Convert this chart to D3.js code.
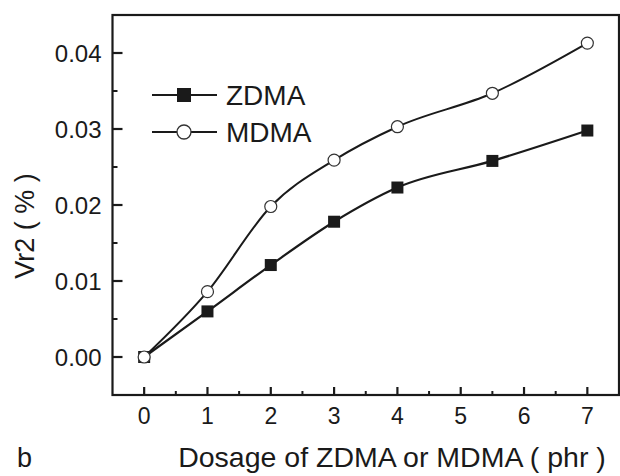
<!DOCTYPE html>
<html><head><meta charset="utf-8">
<script src="https://cdn.jsdelivr.net/npm/d3@7"></script>
<style>body{margin:0;background:#fff}svg{display:block}text{font-family:"Liberation Sans",Arial,sans-serif;fill:#1a1a1a}</style>
</head><body><svg id="c" width="620" height="476"></svg>
<script>
const dosage = [0, 1, 2, 3, 4, 5.5, 7];
const zdma = [0, 0.0060, 0.0121, 0.0178, 0.0223, 0.0258, 0.0298];
const mdma = [0, 0.0086, 0.0198, 0.0259, 0.0303, 0.0347, 0.0413];
const xTicks = [0, 1, 2, 3, 4, 5, 6, 7];
const xMinorTicks = [0.5, 1.5, 2.5, 3.5, 4.5, 5.5, 6.5];
const yTicks = [0, 0.01, 0.02, 0.03, 0.04];
const yMinorTicks = [0.005, 0.015, 0.025, 0.035];
const seriesNames = ["ZDMA", "MDMA"];

const svg = d3.select("#c");
const L = 112.5, R = 619, T = 15, B = 395;
const x = d3.scaleLinear().domain([-0.5, 7.5]).range([L, R]);
const y = d3.scaleLinear().domain([-0.005, 0.045]).range([B, T]);
const ink = "#1a1a1a";

// frame
svg.append("rect").attr("x", L).attr("y", T).attr("width", R - L).attr("height", B - T)
  .attr("fill", "none").attr("stroke", ink).attr("stroke-width", 2.2);

// y ticks (inward)
const gy = svg.append("g");
gy.selectAll("line.maj").data(yTicks).join("line").attr("class", "maj")
  .attr("x1", L).attr("x2", L + 10).attr("y1", d => y(d)).attr("y2", d => y(d))
  .attr("stroke", ink).attr("stroke-width", 2.2);
gy.selectAll("line.min").data(yMinorTicks).join("line").attr("class", "min")
  .attr("x1", L).attr("x2", L + 5).attr("y1", d => y(d)).attr("y2", d => y(d))
  .attr("stroke", ink).attr("stroke-width", 2);
gy.selectAll("text").data(yTicks).join("text")
  .attr("x", L - 11).attr("y", d => y(d)).attr("dy", "0.36em").attr("text-anchor", "end")
  .attr("font-size", 24).text(d3.format(".2f"));

// x ticks (inward)
const gx = svg.append("g");
gx.selectAll("line.maj").data(xTicks).join("line").attr("class", "maj")
  .attr("x1", d => x(d)).attr("x2", d => x(d)).attr("y1", B).attr("y2", B - 8)
  .attr("stroke", ink).attr("stroke-width", 2.2);
gx.selectAll("line.min").data(xMinorTicks).join("line").attr("class", "min")
  .attr("x1", d => x(d)).attr("x2", d => x(d)).attr("y1", B).attr("y2", B - 4)
  .attr("stroke", ink).attr("stroke-width", 2);
gx.selectAll("text").data(xTicks).join("text")
  .attr("x", d => x(d)).attr("y", 424).attr("text-anchor", "middle")
  .attr("font-size", 23).text(d3.format("d"));

// lines
const line = d3.line().x(d => x(d[0])).y(d => y(d[1])).curve(d3.curveMonotoneX);
const zPts = dosage.map((d, i) => [d, zdma[i]]);
const mPts = dosage.map((d, i) => [d, mdma[i]]);
svg.append("path").attr("d", line(zPts)).attr("fill", "none").attr("stroke", ink).attr("stroke-width", 2.2);
svg.append("path").attr("d", line(mPts)).attr("fill", "none").attr("stroke", ink).attr("stroke-width", 2);

// markers
svg.selectAll(".sq").data(zPts).join("rect").attr("class", "sq")
  .attr("x", d => x(d[0]) - 6).attr("y", d => y(d[1]) - 6).attr("width", 12).attr("height", 12)
  .attr("fill", ink);
svg.selectAll(".ci").data(mPts).join("circle").attr("class", "ci")
  .attr("cx", d => x(d[0])).attr("cy", d => y(d[1])).attr("r", 6)
  .attr("fill", "#fff").attr("stroke", "#333").attr("stroke-width", 1.2);

// legend
const lg = svg.append("g");
[95, 132].forEach((ly, i) => {
  lg.append("line").attr("x1", 152).attr("x2", 217).attr("y1", ly).attr("y2", ly).attr("stroke", ink).attr("stroke-width", 2);
  if (i === 0) lg.append("rect").attr("x", 184 - 7).attr("y", ly - 7).attr("width", 14).attr("height", 14).attr("fill", ink);
  else lg.append("circle").attr("cx", 184).attr("cy", ly).attr("r", 7).attr("fill", "#fff").attr("stroke", "#333").attr("stroke-width", 1.3);
  lg.append("text").attr("x", 226).attr("y", ly).attr("dy", "0.36em").attr("font-size", 28).text(seriesNames[i]);
});

// axis titles
svg.append("text").attr("transform", "translate(34,226) rotate(-90)").attr("text-anchor", "middle")
  .attr("font-size", 27).text("Vr2 ( % )");
svg.append("text").attr("x", 392).attr("y", 467).attr("text-anchor", "middle").attr("font-size", 28.5)
  .text("Dosage of ZDMA or MDMA ( phr )");
svg.append("text").attr("x", 17).attr("y", 467).attr("font-size", 27).text("b");
</script></body></html>
